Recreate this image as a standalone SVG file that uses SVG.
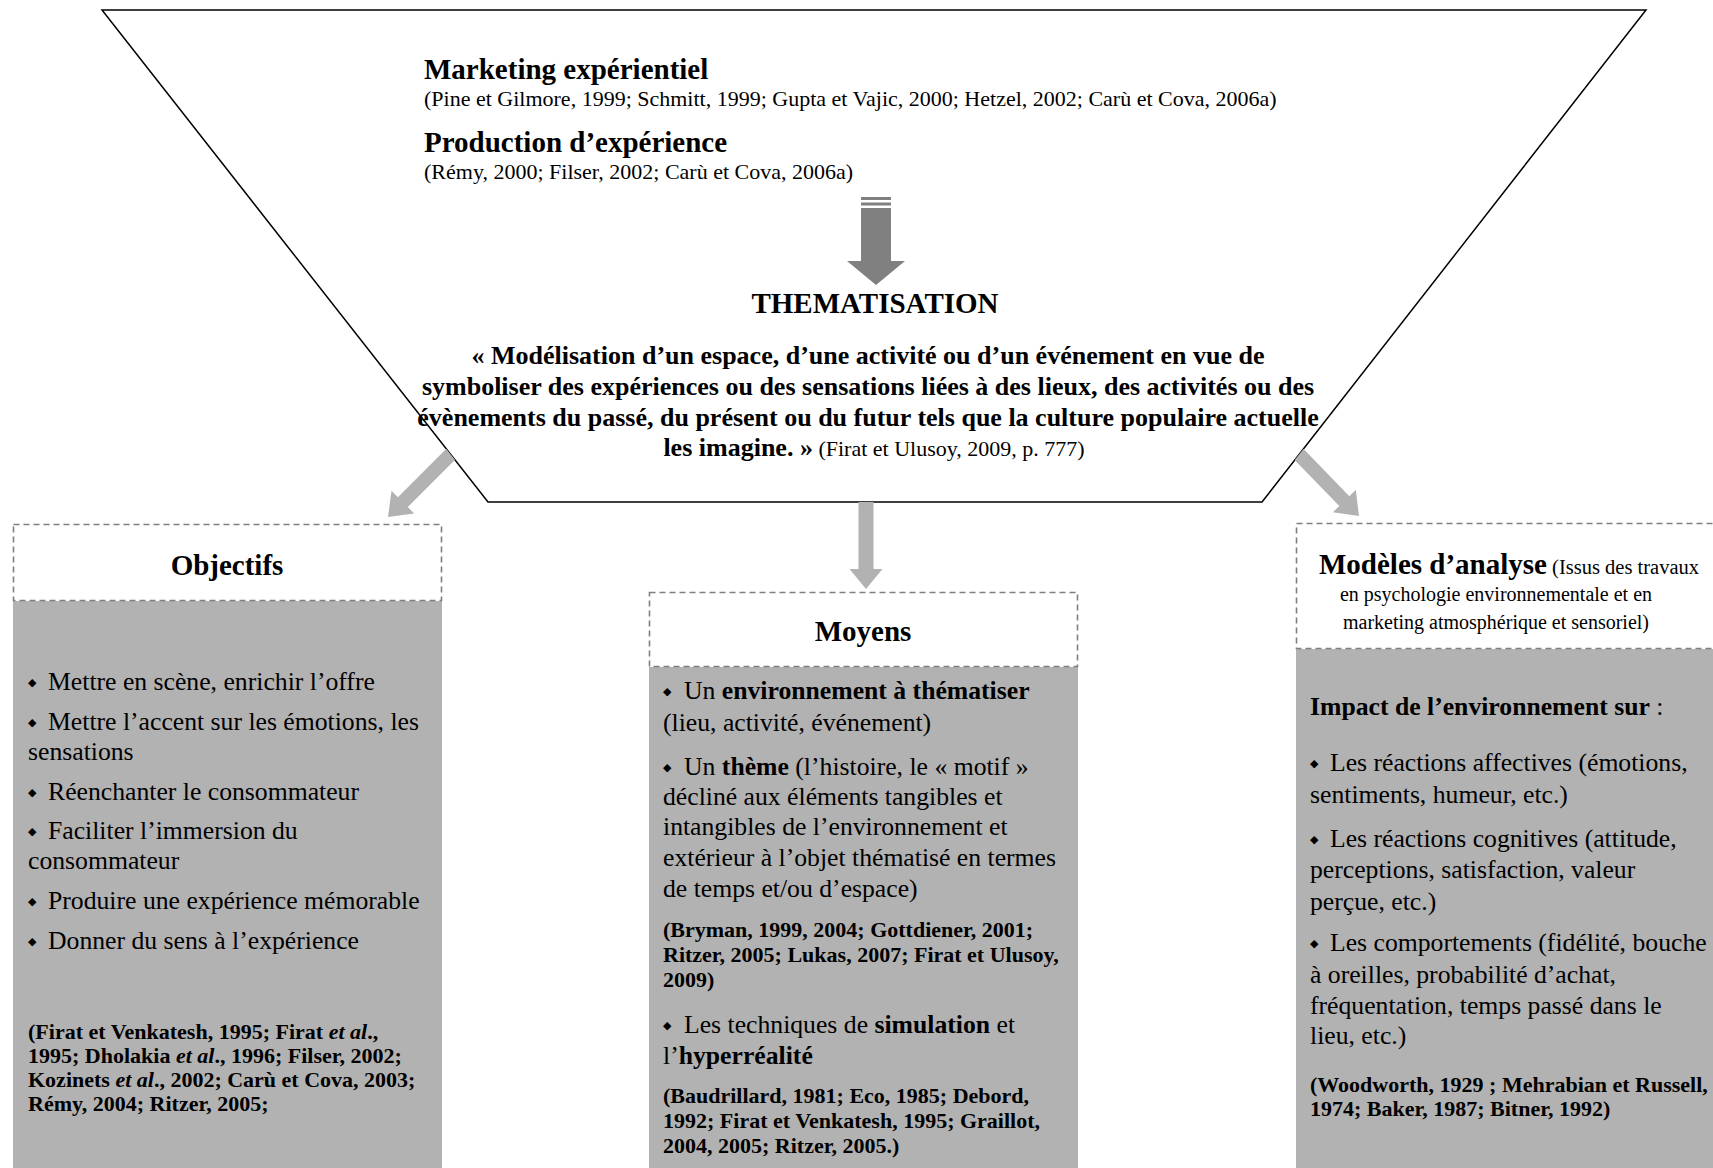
<svg xmlns="http://www.w3.org/2000/svg" width="1713" height="1168" viewBox="0 0 1713 1168">
<style>
text{font-family:"Liberation Serif","Times New Roman",serif;fill:#000}
.h{font-size:29px;font-weight:bold}
.c{font-size:22px}
.q{font-size:26px;font-weight:bold}
.t{font-size:25.7px}
.cb{font-size:22px;font-weight:bold}
.s{font-size:20px}
.bl{font-family:"DejaVu Sans",sans-serif;font-size:11px;font-weight:normal}
.b{font-weight:bold}
.i{font-style:italic}
.hd{fill:#fff;stroke:#7f7f7f;stroke-width:1.6;stroke-dasharray:6 4}
.bd{fill:#b2b2b2}
.ar{fill:#b2b2b2}
.dk{fill:#808080}
</style>
<defs>
<clipPath id="outside">
<path clip-rule="evenodd" d="M0,0 H1713 V1168 H0 Z M102,10 L1646,10 L1262,502 L488,502 Z"/>
</clipPath>
</defs>
<rect width="1713" height="1168" fill="#fff"/>

<g id="thematisation">
<path d="M102,10 L1646,10 L1262,502 L488,502 Z" fill="#fff" stroke="#000" stroke-width="1.5"/>
<text class="h" x="424" y="79">Marketing expérientiel</text>
<text class="c" x="424" y="106">(Pine et Gilmore, 1999; Schmitt, 1999; Gupta et Vajic, 2000; Hetzel, 2002; Carù et Cova, 2006a)</text>
<text class="h" x="424" y="152">Production d’expérience</text>
<text class="c" x="424" y="179">(Rémy, 2000; Filser, 2002; Carù et Cova, 2006a)</text>
<text class="h" x="875" y="313" text-anchor="middle">THEMATISATION</text>
<text class="q" x="868" y="364" text-anchor="middle">« Modélisation d’un espace, d’une activité ou d’un événement en vue de</text>
<text class="q" x="868" y="395" text-anchor="middle">symboliser des expériences ou des sensations liées à des lieux, des activités ou des</text>
<text class="q" x="868" y="426" text-anchor="middle">évènements du passé, du présent ou du futur tels que la culture populaire actuelle</text>
<text class="q" x="874" y="456" text-anchor="middle">les imagine. »<tspan class="c" font-weight="normal"> (Firat et Ulusoy, 2009, p. 777)</tspan></text>
</g>

<g id="connectors">
<g clip-path="url(#outside)">
<polygon class="ar" transform="translate(464,441) rotate(45)" points="-7,0 7,0 7,86.5 16,86.5 0,107.5 -16,86.5 -7,86.5"/>
<polygon class="ar" transform="translate(866,490)" points="-7.5,0 7.5,0 7.5,79 16.5,79 0,99 -16.5,79 -7.5,79"/>
<polygon class="ar" transform="translate(1286,441) rotate(-44.2)" points="-7,0 7,0 7,83.7 16,83.7 0,104.7 -16,83.7 -7,83.7"/>
</g>
<g id="arrow-production-thematisation">
<rect class="dk" x="861" y="197" width="30" height="3"/>
<rect class="dk" x="861" y="202.5" width="30" height="3"/>
<polygon class="dk" points="861,208 891,208 891,261 905,261 876,285 847,261 861,261"/>
</g>
</g>

<g id="objectifs">
<rect class="bd" x="13" y="601" width="429" height="567"/>
<rect class="hd" x="13.5" y="524.5" width="428" height="76"/>
<text class="h" x="227" y="575" text-anchor="middle">Objectifs</text>
<text class="t" x="28" y="690"><tspan class="bl" dy="-4">◆</tspan><tspan x="48" dy="4">Mettre en scène, enrichir l’offre</tspan></text>
<text class="t" x="28" y="730"><tspan class="bl" dy="-4">◆</tspan><tspan x="48" dy="4">Mettre l’accent sur les émotions, les</tspan></text>
<text class="t" x="28" y="760">sensations</text>
<text class="t" x="28" y="800"><tspan class="bl" dy="-4">◆</tspan><tspan x="48" dy="4">Réenchanter le consommateur</tspan></text>
<text class="t" x="28" y="839"><tspan class="bl" dy="-4">◆</tspan><tspan x="48" dy="4">Faciliter l’immersion du</tspan></text>
<text class="t" x="28" y="869">consommateur</text>
<text class="t" x="28" y="909"><tspan class="bl" dy="-4">◆</tspan><tspan x="48" dy="4">Produire une expérience mémorable</tspan></text>
<text class="t" x="28" y="949"><tspan class="bl" dy="-4">◆</tspan><tspan x="48" dy="4">Donner du sens à l’expérience</tspan></text>
<text class="cb" x="28" y="1039">(Firat et Venkatesh, 1995; Firat <tspan class="i">et al</tspan>.,</text>
<text class="cb" x="28" y="1063">1995; Dholakia <tspan class="i">et al</tspan>., 1996; Filser, 2002;</text>
<text class="cb" x="28" y="1087">Kozinets <tspan class="i">et al</tspan>., 2002; Carù et Cova, 2003;</text>
<text class="cb" x="28" y="1111">Rémy, 2004; Ritzer, 2005;</text>
</g>

<g id="moyens">
<rect class="bd" x="649" y="667" width="429" height="501"/>
<rect class="hd" x="649.5" y="592.5" width="428" height="74"/>
<text class="h" x="863" y="641" text-anchor="middle">Moyens</text>
<text class="t" x="663" y="699"><tspan class="bl" dy="-4">◆</tspan><tspan x="684" dy="4">Un </tspan><tspan class="b">environnement à thématiser</tspan></text>
<text class="t" x="663" y="731">(lieu, activité, événement)</text>
<text class="t" x="663" y="775"><tspan class="bl" dy="-4">◆</tspan><tspan x="684" dy="4">Un </tspan><tspan class="b">thème</tspan> (l’histoire, le « motif »</text>
<text class="t" x="663" y="805">décliné aux éléments tangibles et</text>
<text class="t" x="663" y="835">intangibles de l’environnement et</text>
<text class="t" x="663" y="866">extérieur à l’objet thématisé en termes</text>
<text class="t" x="663" y="897">de temps et/ou d’espace)</text>
<text class="cb" x="663" y="937">(Bryman, 1999, 2004; Gottdiener, 2001;</text>
<text class="cb" x="663" y="962">Ritzer, 2005; Lukas, 2007; Firat et Ulusoy,</text>
<text class="cb" x="663" y="987">2009)</text>
<text class="t" x="663" y="1033"><tspan class="bl" dy="-4">◆</tspan><tspan x="684" dy="4">Les techniques de </tspan><tspan class="b">simulation</tspan> et</text>
<text class="t" x="663" y="1064">l’<tspan class="b">hyperréalité</tspan></text>
<text class="cb" x="663" y="1103">(Baudrillard, 1981; Eco, 1985; Debord,</text>
<text class="cb" x="663" y="1128">1992; Firat et Venkatesh, 1995; Graillot,</text>
<text class="cb" x="663" y="1153">2004, 2005; Ritzer, 2005.)</text>
</g>

<g id="modeles">
<rect class="bd" x="1296" y="649" width="430" height="519"/>
<rect class="hd" x="1296.5" y="523.5" width="430" height="125"/>
<text class="h" x="1509" y="574" text-anchor="middle" font-size="31px">Modèles d’analyse<tspan font-size="20.5px" font-weight="normal"> (Issus des travaux</tspan></text>
<text class="s" x="1496" y="601" text-anchor="middle">en psychologie environnementale et en</text>
<text class="s" x="1496" y="629" text-anchor="middle">marketing atmosphérique et sensoriel)</text>
<text class="t" x="1310" y="715"><tspan class="b">Impact de l’environnement sur</tspan> :</text>
<text class="t" x="1310" y="771"><tspan class="bl" dy="-4">◆</tspan><tspan x="1330" dy="4">Les réactions affectives (émotions,</tspan></text>
<text class="t" x="1310" y="803">sentiments, humeur, etc.)</text>
<text class="t" x="1310" y="847"><tspan class="bl" dy="-4">◆</tspan><tspan x="1330" dy="4">Les réactions cognitives (attitude,</tspan></text>
<text class="t" x="1310" y="878">perceptions, satisfaction, valeur</text>
<text class="t" x="1310" y="910">perçue, etc.)</text>
<text class="t" x="1310" y="951"><tspan class="bl" dy="-4">◆</tspan><tspan x="1330" dy="4">Les comportements (fidélité, bouche</tspan></text>
<text class="t" x="1310" y="983">à oreilles, probabilité d’achat,</text>
<text class="t" x="1310" y="1014">fréquentation, temps passé dans le</text>
<text class="t" x="1310" y="1044">lieu, etc.)</text>
<text class="cb" x="1310" y="1092">(Woodworth, 1929 ; Mehrabian et Russell,</text>
<text class="cb" x="1310" y="1116">1974; Baker, 1987; Bitner, 1992)</text>
</g>
</svg>
